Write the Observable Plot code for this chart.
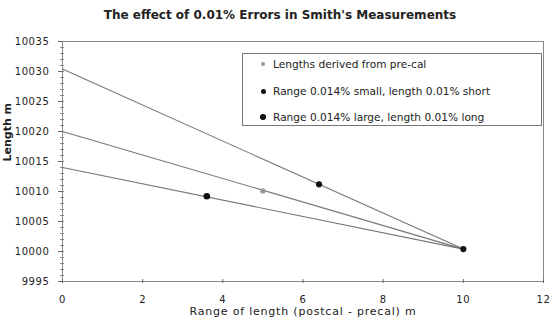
<!DOCTYPE html>
<html>
<head>
<meta charset="utf-8">
<script src="https://cdn.jsdelivr.net/npm/d3@7"></script>
<script src="https://cdn.jsdelivr.net/npm/@observablehq/plot@0.6"></script>
<style>
  body { margin: 0; background: #fff; }
  #wrap { position: relative; width: 554px; height: 328px; font-family: "DejaVu Sans", sans-serif; color: #222; }
  #title { position: absolute; left: 0; width: 560px; top: 8px; text-align: center; font-weight: bold; font-size: 12px; }
  #legend { position: absolute; left: 242px; top: 53px; width: 300px; height: 73px; border: 1px solid #777; box-sizing: border-box; background: #fff; }
  .row { position: absolute; left: 0; height: 14px; line-height: 14px; font-size: 10.6px; white-space: nowrap; }
  .sw { position: absolute; border-radius: 50%; }
  .lab { position: absolute; left: 30px; top: 0; }
</style>
</head>
<body>
<div id="wrap">
  <div id="title">The effect of 0.01% Errors in Smith's Measurements</div>
  <div id="chart"></div>
  <div id="legend"></div>
</div>
<script>
// Series names
const seriesNames = [
  "Lengths derived from pre-cal",
  "Range 0.014% small, length 0.01% short",
  "Range 0.014% large, length 0.01% long"
];
// Trend line end points (x = range of length, y = length)
const lineStartX = [0, 0, 0];
const lineStartY = [10020, 10030.4, 10014];
const lineEndX = [10, 10, 10];
const lineEndY = [10000.4, 10000.4, 10000.4];
// Data points
const pointX = [5, 6.4, 3.6, 10];
const pointY = [10010.1, 10011.2, 10009.2, 10000.4];
const pointSeries = [0, 1, 2, 1];
// Ticks
const xTicks = [0, 2, 4, 6, 8, 10, 12];
const yTicks = [9995, 10000, 10005, 10010, 10015, 10020, 10025, 10030, 10035];
const yMinorTicks = d3.range(9995, 10036, 1);

const markerFill = ["#999", "#111", "#111"];
const markerR = [1.6, 2.1, 2.4];

const lines = seriesNames.map((s, i) => ({s, i, x1: lineStartX[i], y1: lineStartY[i], x2: lineEndX[i], y2: lineEndY[i]}));
const pts = pointX.map((x, j) => ({x, y: pointY[j], i: pointSeries[j]}));

const chart = Plot.plot({
  width: 554,
  height: 328,
  marginLeft: 62,
  marginRight: 11,
  marginTop: 41,
  marginBottom: 47,
  style: {fontFamily: "DejaVu Sans, sans-serif", fontSize: "10px", color: "#222", background: "#fff", overflow: "visible"},
  x: {domain: [0, 12]},
  y: {domain: [9995, 10035]},
  marks: [
    Plot.frame({stroke: "#888"}),
    Plot.axisY({ticks: yMinorTicks, tickSize: 4, dx: 2, tickFormat: () => "", stroke: "#888"}),
    Plot.axisY({ticks: yTicks, tickSize: 4, tickPadding: 9, stroke: "#666", fontSize: 10, tickFormat: d => String(d)}),
    Plot.axisX({ticks: xTicks, tickSize: 4, dy: -2, tickPadding: 12, stroke: "#666", fontSize: 10, tickFormat: d => String(d)}),
    Plot.link(lines, {x1: "x1", y1: "y1", x2: "x2", y2: "y2", stroke: "#777", strokeWidth: 1.1}),
    Plot.dot(pts, {x: "x", y: "y", r: d => markerR[d.i], fill: d => markerFill[d.i], stroke: "none"}),
    Plot.text(["Range of length (postcal - precal) m"], {frameAnchor: "bottom", dy: 33, fontSize: 11, fill: "#222", text: d => d}),
    Plot.text(["Length m"], {frameAnchor: "left", dx: -55, rotate: -90, fontSize: 11, fontWeight: "bold", fill: "#222", text: d => d})
  ]
});
document.getElementById("chart").appendChild(chart);
chart.querySelectorAll("text").forEach(t => {
  const s = t.textContent;
  if (s.startsWith("Range of")) t.setAttribute("letter-spacing", "0.8");
  else if (/^\d+$/.test(s)) t.setAttribute("letter-spacing", "0.6");
});

const legend = d3.select("#legend");
const rowTops = [3, 30, 56];
seriesNames.forEach((s, i) => {
  const row = legend.append("div").attr("class", "row").style("top", rowTops[i] + "px");
  const r = markerR[i] + 0.4;
  row.append("div").attr("class", "sw")
    .style("width", 2 * r + "px").style("height", 2 * r + "px")
    .style("left", (20 - r) + "px").style("top", (7 - r) + "px")
    .style("background", markerFill[i]);
  row.append("div").attr("class", "lab").text(s);
});
</script>
</body>
</html>
